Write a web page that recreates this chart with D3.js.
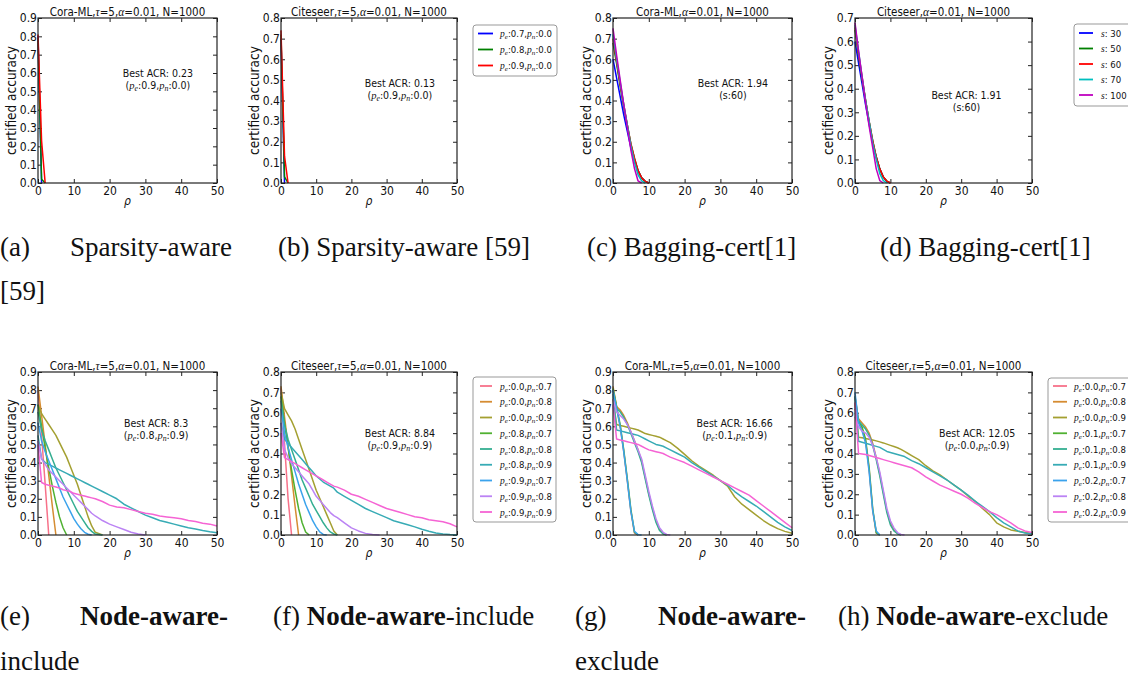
<!DOCTYPE html>
<html><head><meta charset="utf-8">
<script src="https://cdn.jsdelivr.net/npm/d3@7"></script>
<style>
body{margin:0;background:#fff}
svg text{font-family:"DejaVu Sans",sans-serif;font-stretch:condensed;fill:#111}
.cap{font-family:"Liberation Serif","Times New Roman",serif;font-stretch:normal;font-size:27px}
</style></head><body>
<svg id="fig" width="1128" height="680"></svg>
<script>
// ---- data ----
const xTicks = [0, 10, 20, 30, 40, 50];
const yTicks09 = [0, 0.1, 0.2, 0.3, 0.4, 0.5, 0.6, 0.7, 0.8, 0.9];
const yTicks08 = [0, 0.1, 0.2, 0.3, 0.4, 0.5, 0.6, 0.7, 0.8];
const yTicks07 = [0, 0.1, 0.2, 0.3, 0.4, 0.5, 0.6, 0.7];

const rhoTop = [0, 1, 2, 3, 4, 5, 6, 7, 8, 9, 10];
const rhoBottom = [0,1,2,3,4,5,6,7,8,9,10,11,12,13,14,15,16,18,20,22,24,26,28,30,32,34,36,38,40,42,44,46,48,50];

const sparsityParams = [[0.7, 0.0], [0.8, 0.0], [0.9, 0.0]];
const sparsityColors = ["#0000ff", "#008000", "#ff0000"];
const coraSparsity = [
  [0.80, 0],
  [0.79, 0.02, 0],
  [0.81, 0.23, 0]
];
const citeSparsity = [
  [0.70, 0],
  [0.72, 0.03, 0],
  [0.74, 0.13, 0]
];

const baggingS = [30, 50, 60, 70, 100];
const baggingColors = ["#0000ff", "#008000", "#ff0000", "#00bfbf", "#bf00bf"];
const coraBagging = [
  [0.60, 0.51, 0.42, 0.33, 0.25, 0.17, 0.11, 0.06, 0.025, 0.008, 0],
  [0.68, 0.58, 0.47, 0.37, 0.28, 0.19, 0.12, 0.06, 0.025, 0.008, 0],
  [0.70, 0.59, 0.48, 0.38, 0.28, 0.19, 0.12, 0.06, 0.025, 0.008, 0],
  [0.72, 0.60, 0.49, 0.38, 0.28, 0.18, 0.10, 0.04, 0.01, 0],
  [0.75, 0.62, 0.50, 0.38, 0.27, 0.16, 0.07, 0.01, 0]
];
const citeBagging = [
  [0.60, 0.51, 0.42, 0.33, 0.25, 0.17, 0.11, 0.06, 0.025, 0.006, 0],
  [0.65, 0.54, 0.44, 0.35, 0.26, 0.18, 0.11, 0.06, 0.025, 0.008, 0],
  [0.66, 0.55, 0.45, 0.35, 0.26, 0.18, 0.11, 0.06, 0.025, 0.008, 0],
  [0.67, 0.56, 0.45, 0.35, 0.26, 0.17, 0.10, 0.04, 0.01, 0],
  [0.68, 0.56, 0.45, 0.34, 0.24, 0.15, 0.06, 0.01, 0]
];

const husl9 = ["#f77189", "#d58c32", "#a4a031", "#50b131", "#34ae91", "#37abb5", "#3ba3ec", "#bb83f4", "#f564d4"];
const includeParams = [[0.0,0.7],[0.0,0.8],[0.0,0.9],[0.8,0.7],[0.8,0.8],[0.8,0.9],[0.9,0.7],[0.9,0.8],[0.9,0.9]];
const excludeParams = [[0.0,0.7],[0.0,0.8],[0.0,0.9],[0.1,0.7],[0.1,0.8],[0.1,0.9],[0.2,0.7],[0.2,0.8],[0.2,0.9]];

const coraInclude = [
  [0.80, 0.55, 0.28, 0],
  [0.82, 0.66, 0.50, 0.33, 0.16, 0],
  [0.72, 0.67, 0.64, 0.61, 0.58, 0.55, 0.51, 0.47, 0.43, 0.38, 0.33, 0.28, 0.22, 0.16, 0.10, 0.05, 0.015, 0],
  [0.72, 0.60, 0.48, 0.37, 0.27, 0.18, 0.10, 0.04, 0],
  [0.68, 0.58, 0.52, 0.47, 0.42, 0.37, 0.33, 0.29, 0.25, 0.21, 0.17, 0.13, 0.10, 0.07, 0.04, 0.02, 0.005, 0],
  [0.55, 0.42, 0.40, 0.39, 0.38, 0.37, 0.36, 0.35, 0.34, 0.33, 0.32, 0.31, 0.30, 0.29, 0.28, 0.27, 0.26,
   0.24, 0.22, 0.20, 0.17, 0.15, 0.13, 0.11, 0.095, 0.08, 0.07, 0.06, 0.05, 0.04, 0.033, 0.025, 0.018, 0.012],
  [0.62, 0.52, 0.46, 0.41, 0.36, 0.31, 0.26, 0.21, 0.17, 0.13, 0.09, 0.06, 0.035, 0.015, 0.004, 0],
  [0.52, 0.42, 0.39, 0.36, 0.34, 0.32, 0.30, 0.28, 0.26, 0.24, 0.22, 0.20, 0.18, 0.16, 0.14, 0.12, 0.105,
   0.08, 0.06, 0.045, 0.03, 0.015, 0.005, 0],
  [0.50, 0.29, 0.28, 0.275, 0.27, 0.265, 0.26, 0.25, 0.245, 0.24, 0.23, 0.225, 0.22, 0.215, 0.21, 0.205, 0.20,
   0.185, 0.165, 0.155, 0.15, 0.14, 0.13, 0.12, 0.115, 0.105, 0.10, 0.095, 0.09, 0.08, 0.075, 0.065, 0.06, 0.05]
];
const citeInclude = [
  [0.72, 0.45, 0.18, 0],
  [0.73, 0.58, 0.44, 0.29, 0.14, 0],
  [0.70, 0.62, 0.59, 0.56, 0.52, 0.47, 0.42, 0.37, 0.32, 0.27, 0.22, 0.18, 0.14, 0.10, 0.06, 0.02, 0],
  [0.68, 0.55, 0.43, 0.32, 0.22, 0.13, 0.06, 0.015, 0],
  [0.66, 0.54, 0.47, 0.42, 0.37, 0.32, 0.27, 0.23, 0.19, 0.15, 0.12, 0.09, 0.06, 0.035, 0.015, 0.005, 0],
  [0.55, 0.47, 0.45, 0.43, 0.41, 0.39, 0.37, 0.35, 0.33, 0.31, 0.29, 0.275, 0.26, 0.25, 0.24, 0.23, 0.21,
   0.19, 0.17, 0.15, 0.13, 0.115, 0.10, 0.085, 0.07, 0.06, 0.05, 0.04, 0.028, 0.018, 0.01, 0.005, 0.002, 0],
  [0.62, 0.50, 0.43, 0.37, 0.31, 0.25, 0.20, 0.15, 0.11, 0.07, 0.04, 0.015, 0.003, 0],
  [0.55, 0.42, 0.38, 0.35, 0.33, 0.31, 0.29, 0.27, 0.25, 0.22, 0.19, 0.17, 0.15, 0.13, 0.11, 0.095, 0.085,
   0.06, 0.035, 0.02, 0.008, 0.002, 0],
  [0.50, 0.38, 0.37, 0.36, 0.35, 0.34, 0.33, 0.32, 0.31, 0.30, 0.29, 0.28, 0.27, 0.26, 0.25, 0.24, 0.235,
   0.22, 0.20, 0.19, 0.175, 0.16, 0.145, 0.13, 0.12, 0.11, 0.10, 0.09, 0.085, 0.075, 0.07, 0.065, 0.055, 0.04]
];
const coraExclude = [
  [0.80, 0.70, 0.60, 0.46, 0.30, 0.13, 0.01, 0],
  [0.82, 0.71, 0.69, 0.66, 0.62, 0.57, 0.52, 0.47, 0.41, 0.32, 0.23, 0.15, 0.08, 0.03, 0.008, 0],
  [0.75, 0.61, 0.605, 0.60, 0.595, 0.59, 0.585, 0.58, 0.57, 0.56, 0.555, 0.55, 0.545, 0.54, 0.53, 0.52, 0.51,
   0.48, 0.445, 0.41, 0.38, 0.355, 0.33, 0.30, 0.27, 0.21, 0.17, 0.14, 0.11, 0.08, 0.055, 0.035, 0.02, 0.01],
  [0.81, 0.71, 0.61, 0.47, 0.31, 0.14, 0.015, 0],
  [0.80, 0.70, 0.68, 0.65, 0.61, 0.56, 0.51, 0.46, 0.40, 0.31, 0.22, 0.14, 0.07, 0.025, 0.006, 0],
  [0.78, 0.58, 0.575, 0.57, 0.565, 0.56, 0.555, 0.55, 0.54, 0.53, 0.52, 0.51, 0.50, 0.495, 0.49, 0.48, 0.47,
   0.45, 0.43, 0.40, 0.375, 0.35, 0.325, 0.30, 0.275, 0.24, 0.21, 0.185, 0.16, 0.13, 0.10, 0.07, 0.045, 0.025],
  [0.80, 0.70, 0.60, 0.46, 0.30, 0.13, 0.02, 0.002, 0],
  [0.75, 0.68, 0.66, 0.64, 0.61, 0.57, 0.52, 0.47, 0.42, 0.33, 0.24, 0.16, 0.09, 0.04, 0.015, 0.003, 0],
  [0.72, 0.53, 0.525, 0.52, 0.515, 0.51, 0.505, 0.50, 0.49, 0.48, 0.47, 0.465, 0.46, 0.455, 0.45, 0.44, 0.43,
   0.415, 0.40, 0.38, 0.36, 0.34, 0.32, 0.30, 0.28, 0.26, 0.24, 0.22, 0.19, 0.16, 0.13, 0.10, 0.07, 0.04]
];
const citeExclude = [
  [0.68, 0.56, 0.52, 0.46, 0.32, 0.12, 0.01, 0],
  [0.62, 0.57, 0.55, 0.53, 0.50, 0.45, 0.38, 0.30, 0.21, 0.12, 0.06, 0.025, 0.008, 0],
  [0.65, 0.48, 0.477, 0.474, 0.47, 0.466, 0.462, 0.457, 0.452, 0.446, 0.44, 0.434, 0.428, 0.42, 0.41, 0.40, 0.39,
   0.37, 0.34, 0.315, 0.295, 0.27, 0.245, 0.22, 0.19, 0.165, 0.13, 0.10, 0.06, 0.04, 0.025, 0.018, 0.012, 0.008],
  [0.68, 0.56, 0.53, 0.47, 0.33, 0.13, 0.01, 0],
  [0.60, 0.56, 0.54, 0.52, 0.49, 0.44, 0.37, 0.29, 0.20, 0.11, 0.05, 0.02, 0.006, 0],
  [0.68, 0.46, 0.455, 0.45, 0.445, 0.44, 0.435, 0.43, 0.42, 0.41, 0.405, 0.40, 0.395, 0.39, 0.385, 0.375, 0.365,
   0.35, 0.33, 0.31, 0.29, 0.27, 0.245, 0.22, 0.195, 0.165, 0.14, 0.115, 0.085, 0.06, 0.04, 0.02, 0.01, 0.005],
  [0.70, 0.55, 0.51, 0.45, 0.31, 0.12, 0.02, 0],
  [0.58, 0.53, 0.51, 0.50, 0.48, 0.44, 0.38, 0.31, 0.22, 0.13, 0.07, 0.035, 0.012, 0.003, 0],
  [0.65, 0.40, 0.398, 0.395, 0.39, 0.385, 0.38, 0.375, 0.37, 0.365, 0.36, 0.355, 0.35, 0.345, 0.34, 0.335, 0.33,
   0.31, 0.285, 0.265, 0.245, 0.23, 0.215, 0.20, 0.18, 0.155, 0.135, 0.115, 0.10, 0.08, 0.06, 0.035, 0.02, 0.012]
];

const bestAcr = ["0.23", "0.13", "1.94", "1.91", "8.3", "8.84", "16.66", "12.05"];

// ---- drawing ----
const svg = d3.select("#fig");
const mathFont = '"Liberation Serif","DejaVu Serif",serif';

// parts: [text, style]; style "i" = math italic, "s" = math subscript
function richText(sel, parts) {
  let shifted = false;
  parts.forEach(([t, st]) => {
    const ts = sel.append("tspan").text(t);
    if (st === "i" || st === "s") {
      ts.attr("font-family", mathFont).attr("font-style", "italic").attr("font-stretch", "normal");
    }
    if (st === "s") {
      ts.attr("font-size", "0.75em").attr("dy", 2);
      shifted = true;
    } else if (shifted) {
      ts.attr("dy", -2);
      shifted = false;
    }
  });
  return sel;
}

const fmt1 = d3.format(".1f");
const paramParts = (pe, pn) => [["p", "i"], ["e", "s"], [":" + fmt1(pe) + ",", ""], ["p", "i"], ["n", "s"], [":" + fmt1(pn), ""]];
const titleParts = (name, tau) => tau
  ? [[name + ",", ""], ["τ", "i"], ["=5,", ""], ["α", "i"], ["=0.01, N=1000", ""]]
  : [[name + ",", ""], ["α", "i"], ["=0.01, N=1000", ""]];

function drawPanel(p) {
  const g = svg.append("g");
  const x = d3.scaleLinear().domain([0, 50]).range([p.left, p.right]);
  const y = d3.scaleLinear().domain([0, p.ymax]).range([p.bottom, p.top]);

  const axes = [
    g.append("g").attr("transform", `translate(${p.left},0)`)
      .call(d3.axisLeft(y).tickValues(p.yTicks).tickFormat(fmt1).tickSize(-4).tickPadding(1)),
    g.append("g").attr("transform", `translate(${p.right},0)`)
      .call(d3.axisRight(y).tickValues(p.yTicks).tickFormat("").tickSize(-4)),
    g.append("g").attr("transform", `translate(0,${p.bottom})`)
      .call(d3.axisBottom(x).tickValues(xTicks).tickSize(-4).tickPadding(3)),
    g.append("g").attr("transform", `translate(0,${p.top})`)
      .call(d3.axisTop(x).tickValues(xTicks).tickFormat("").tickSize(-4))
  ];
  axes.forEach(a => {
    a.select(".domain").remove();
    a.attr("font-family", null).attr("font-size", null);
    a.selectAll("line").attr("stroke", "#222");
    a.selectAll("text").attr("font-size", 12).attr("fill", "#111");
  });

  const line = d3.line().x((d, i) => x(p.rho[i])).y(d => y(d));
  p.series.forEach((vals, i) => {
    g.append("path").attr("d", line(vals))
      .attr("fill", "none").attr("stroke", p.colors[i])
      .attr("stroke-width", 1.5).attr("stroke-linejoin", "round");
  });

  g.append("rect").attr("x", p.left).attr("y", p.top)
    .attr("width", p.right - p.left).attr("height", p.bottom - p.top)
    .attr("fill", "none").attr("stroke", "#222").attr("stroke-width", 1.2);

  richText(g.append("text").attr("x", (p.left + p.right) / 2).attr("y", p.top - 2)
    .attr("text-anchor", "middle").attr("font-size", 11.5), p.title);

  g.append("text").attr("transform", `translate(${p.left - 22},${(p.top + p.bottom) / 2}) rotate(-90)`)
    .attr("text-anchor", "middle").attr("font-size", 13.5).text("certified accuracy");

  g.append("text").attr("x", (p.left + p.right) / 2).attr("y", p.bottom + 22)
    .attr("text-anchor", "middle").attr("font-size", 12)
    .attr("font-family", mathFont).attr("font-style", "italic").attr("font-stretch", "normal").text("ρ");

  const ax = p.left + p.annot[0] * (p.right - p.left);
  const ay = p.top + p.annot[1] * (p.bottom - p.top);
  g.append("text").attr("x", ax).attr("y", ay).attr("text-anchor", "middle")
    .attr("font-size", 10.5).text("Best ACR: " + p.best);
  richText(g.append("text").attr("x", ax).attr("y", ay + 12).attr("text-anchor", "middle")
    .attr("font-size", 10.5), [["(", ""]].concat(p.bestParts, [[")", ""]]));

  if (p.legend) {
    const L = p.legend;
    g.append("rect").attr("x", L.x).attr("y", L.y).attr("width", L.w).attr("height", L.h)
      .attr("rx", 3).attr("fill", "#fff").attr("stroke", "#999").attr("stroke-width", 1);
    L.labels.forEach((parts, i) => {
      const ry = L.y + L.first + i * L.step;
      g.append("line").attr("x1", L.x + L.l1).attr("x2", L.x + L.l2).attr("y1", ry).attr("y2", ry)
        .attr("stroke", p.colors[i]).attr("stroke-width", 1.8);
      richText(g.append("text").attr("x", L.x + L.tx).attr("y", ry + 3.5).attr("font-size", 9.5), parts);
    });
  }
}

const topY = { top: 18, bottom: 183 };
const botY = { top: 372, bottom: 535 };
const colX = [[38, 217], [281, 457], [613, 792], [855, 1032]];
const pe = (a, b) => paramParts(a, b);

const panels = [
  { col: 0, row: topY, ymax: 0.9, yTicks: yTicks09, rho: rhoTop, series: coraSparsity, colors: sparsityColors,
    title: titleParts("Cora-ML", true), annot: [0.67, 0.36], best: bestAcr[0], bestParts: pe(0.9, 0.0) },
  { col: 1, row: topY, ymax: 0.8, yTicks: yTicks08, rho: rhoTop, series: citeSparsity, colors: sparsityColors,
    title: titleParts("Citeseer", true), annot: [0.675, 0.42], best: bestAcr[1], bestParts: pe(0.9, 0.0),
    legend: { x: 473, y: 25, w: 84, h: 51, first: 8.5, step: 16, l1: 5, l2: 20, tx: 27,
      labels: sparsityParams.map(d => pe(d[0], d[1])) } },
  { col: 2, row: topY, ymax: 0.8, yTicks: yTicks08, rho: rhoTop, series: coraBagging, colors: baggingColors,
    title: titleParts("Cora-ML", false), annot: [0.67, 0.42], best: bestAcr[2], bestParts: [["s:60", ""]] },
  { col: 3, row: topY, ymax: 0.7, yTicks: yTicks07, rho: rhoTop, series: citeBagging, colors: baggingColors,
    title: titleParts("Citeseer", false), annot: [0.63, 0.49], best: bestAcr[3], bestParts: [["s:60", ""]],
    legend: { x: 1074, y: 24, w: 70, h: 82, first: 9, step: 15.5, l1: 5, l2: 19, tx: 27,
      labels: baggingS.map(s => [["s", "i"], [": " + s, ""]]) } },
  { col: 0, row: botY, ymax: 0.9, yTicks: yTicks09, rho: rhoBottom, series: coraInclude, colors: husl9,
    title: titleParts("Cora-ML", true), annot: [0.66, 0.34], best: bestAcr[4], bestParts: pe(0.8, 0.9) },
  { col: 1, row: botY, ymax: 0.8, yTicks: yTicks08, rho: rhoBottom, series: citeInclude, colors: husl9,
    title: titleParts("Citeseer", true), annot: [0.675, 0.40], best: bestAcr[5], bestParts: pe(0.9, 0.9),
    legend: { x: 473, y: 377, w: 83, h: 145, first: 9, step: 15.75, l1: 7, l2: 19, tx: 27,
      labels: includeParams.map(d => pe(d[0], d[1])) } },
  { col: 2, row: botY, ymax: 0.9, yTicks: yTicks09, rho: rhoBottom, series: coraExclude, colors: husl9,
    title: titleParts("Cora-ML", true), annot: [0.68, 0.34], best: bestAcr[6], bestParts: pe(0.1, 0.9) },
  { col: 3, row: botY, ymax: 0.8, yTicks: yTicks08, rho: rhoBottom, series: citeExclude, colors: husl9,
    title: titleParts("Citeseer", true), annot: [0.69, 0.40], best: bestAcr[7], bestParts: pe(0.0, 0.9),
    legend: { x: 1048, y: 378, w: 90, h: 144, first: 8, step: 15.75, l1: 5, l2: 19, tx: 26,
      labels: excludeParams.map(d => pe(d[0], d[1])) } }
];

panels.forEach(p => drawPanel(Object.assign({}, p, {
  left: colX[p.col][0], right: colX[p.col][1], top: p.row.top, bottom: p.row.bottom
})));

// ---- captions ----
const captions = [
  // [x, y, anchor, parts[[text, bold]]]
  [0, 256, "start", [["(a)", false]]],
  [232, 256, "end", [["Sparsity-aware", false]]],
  [0, 300, "start", [["[59]", false]]],
  [278, 256, "start", [["(b) Sparsity-aware [59]", false]]],
  [587, 256, "start", [["(c) Bagging-cert[1]", false]]],
  [880, 256, "start", [["(d) Bagging-cert[1]", false]]],
  [0, 625, "start", [["(e)", false]]],
  [228, 625, "end", [["Node-aware-", true]]],
  [0, 670, "start", [["include", false]]],
  [273, 625, "start", [["(f) ", false], ["Node-aware", true], ["-include", false]]],
  [575, 625, "start", [["(g)", false]]],
  [806, 625, "end", [["Node-aware-", true]]],
  [575, 670, "start", [["exclude", false]]],
  [838, 625, "start", [["(h) ", false], ["Node-aware", true], ["-exclude", false]]]
];
captions.forEach(([cx, cy, anchor, parts]) => {
  const t = svg.append("text").attr("class", "cap").attr("x", cx).attr("y", cy).attr("text-anchor", anchor)
    .attr("xml:space", "preserve");
  parts.forEach(([s, b]) => t.append("tspan").text(s).attr("font-weight", b ? "bold" : null));
});
</script></body></html>
